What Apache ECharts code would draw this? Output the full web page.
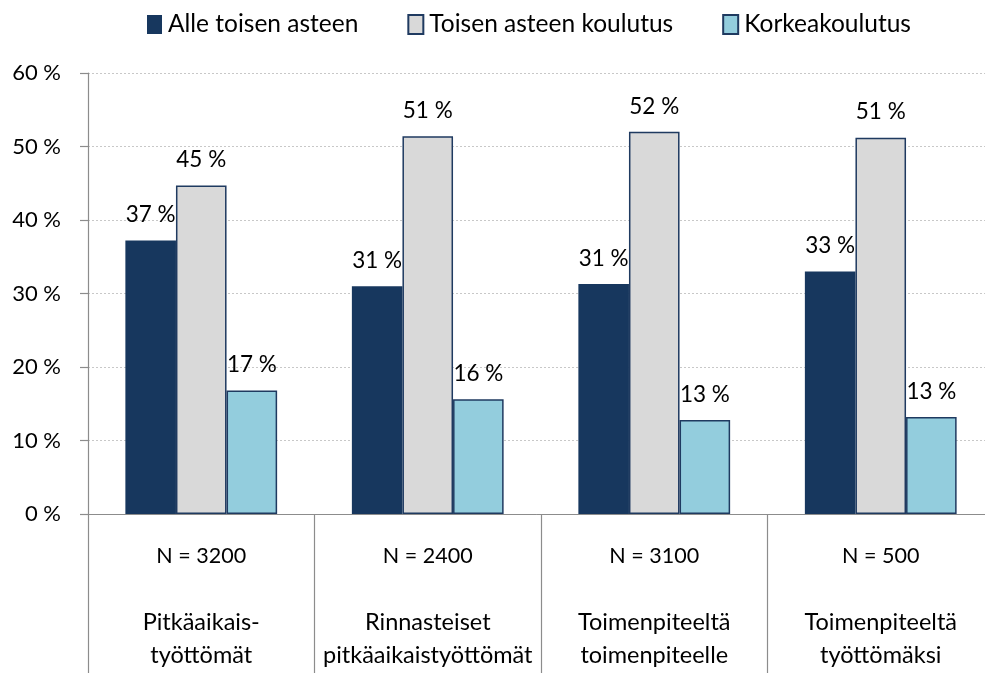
<!DOCTYPE html>
<html>
<head>
<meta charset="utf-8">
<script src="https://cdn.jsdelivr.net/npm/echarts@6/dist/echarts.min.js"></script>
<style>
  html, body { margin: 0; padding: 0; background: #fff; }
  #chart { width: 985px; height: 673px; }
</style>
</head>
<body>
<div id="chart"></div>
<script>
// Group sizes and group names for the category axis
var groupSizes = ['N = 3200', 'N = 2400', 'N = 3100', 'N = 500'];
var groupNames = [['Pitkäaikais-', 'työttömät'], ['Rinnasteiset', 'pitkäaikaistyöttömät'], ['Toimenpiteeltä', 'toimenpiteelle'], ['Toimenpiteeltä', 'työttömäksi']];

// Share of each education level (%)
var seriesNames = ['Alle toisen asteen', 'Toisen asteen koulutus', 'Korkeakoulutus'];
var alleToisen = [37.2, 31.0, 31.3, 33.0];
var toisenAsteen = [44.7, 51.4, 52.0, 51.2];
var korkea = [16.8, 15.6, 12.8, 13.2];

var yTicks = { min: 0, max: 60, interval: 10 };

var FONT = 'Lato, "Open Sans", sans-serif';
var AXIS_GREY = '#8c8c8c';
var EDGE = '#1f3a60';

var categories = groupSizes.map(function (n, i) {
  return '{n|' + n + '}\n{n| }\n' + groupNames[i].map(function (s) { return '{t|' + s + '}'; }).join('\n');
});

function barSeries(name, data, fill, border) {
  return {
    name: name,
    type: 'bar',
    data: data,
    barGap: 0,
    barCategoryGap: '33%',
    itemStyle: { color: fill, borderColor: border, borderWidth: border ? 1.5 : 0 },
    label: {
      show: true,
      position: 'top',
      distance: 14,
      color: '#000',
      fontFamily: FONT,
      fontSize: 22.5,
      formatter: function (p) { return Math.round(p.value) + ' %'; }
    }
  };
}

var chart = echarts.init(document.getElementById('chart'), null, { renderer: 'canvas' });
chart.setOption({
  animation: false,
  backgroundColor: '#fff',
  textStyle: { fontFamily: FONT },
  legend: {
    left: 142,
    top: 7,
    itemWidth: 15,
    itemHeight: 19,
    itemGap: 49,
    icon: 'rect',
    textStyle: { fontFamily: FONT, fontSize: 24.5, color: '#000', padding: [0, 0, 0, 1] },
    data: seriesNames
  },
  // the last category runs a little past the right edge of the canvas
  grid: { left: 88, width: 906, top: 73, bottom: 159, containLabel: false, outerBoundsMode: 'none' },
  xAxis: {
    type: 'category',
    data: categories,
    axisLine: { lineStyle: { color: AXIS_GREY, width: 1 } },
    axisTick: { show: true, length: 160, interval: 0, lineStyle: { color: AXIS_GREY, width: 1.2 } },
    axisLabel: {
      interval: 0,
      margin: 26,
      color: '#000',
      fontFamily: FONT,
      fontSize: 22,
      lineHeight: 33,
      align: 'center',
      rich: {
        n: { fontFamily: FONT, fontSize: 21.5, lineHeight: 33, color: '#000' },
        t: { fontFamily: FONT, fontSize: 23.5, lineHeight: 33, color: '#000' }
      }
    }
  },
  yAxis: {
    type: 'value',
    min: yTicks.min,
    max: yTicks.max,
    interval: yTicks.interval,
    axisLine: { show: true, lineStyle: { color: AXIS_GREY, width: 1.2 } },
    axisTick: { show: true, length: 8, lineStyle: { color: AXIS_GREY, width: 1.2 } },
    axisLabel: {
      margin: 27,
      color: '#000',
      fontFamily: FONT,
      fontSize: 22,
      formatter: '{value} %'
    },
    splitLine: { show: true, lineStyle: { color: '#c8c8c8', type: [2, 2], width: 1 } }
  },
  series: [
    barSeries(seriesNames[0], alleToisen, '#17375e', null),
    barSeries(seriesNames[1], toisenAsteen, '#d9d9d9', EDGE),
    barSeries(seriesNames[2], korkea, '#93cddd', EDGE)
  ]
});
</script>
</body>
</html>
